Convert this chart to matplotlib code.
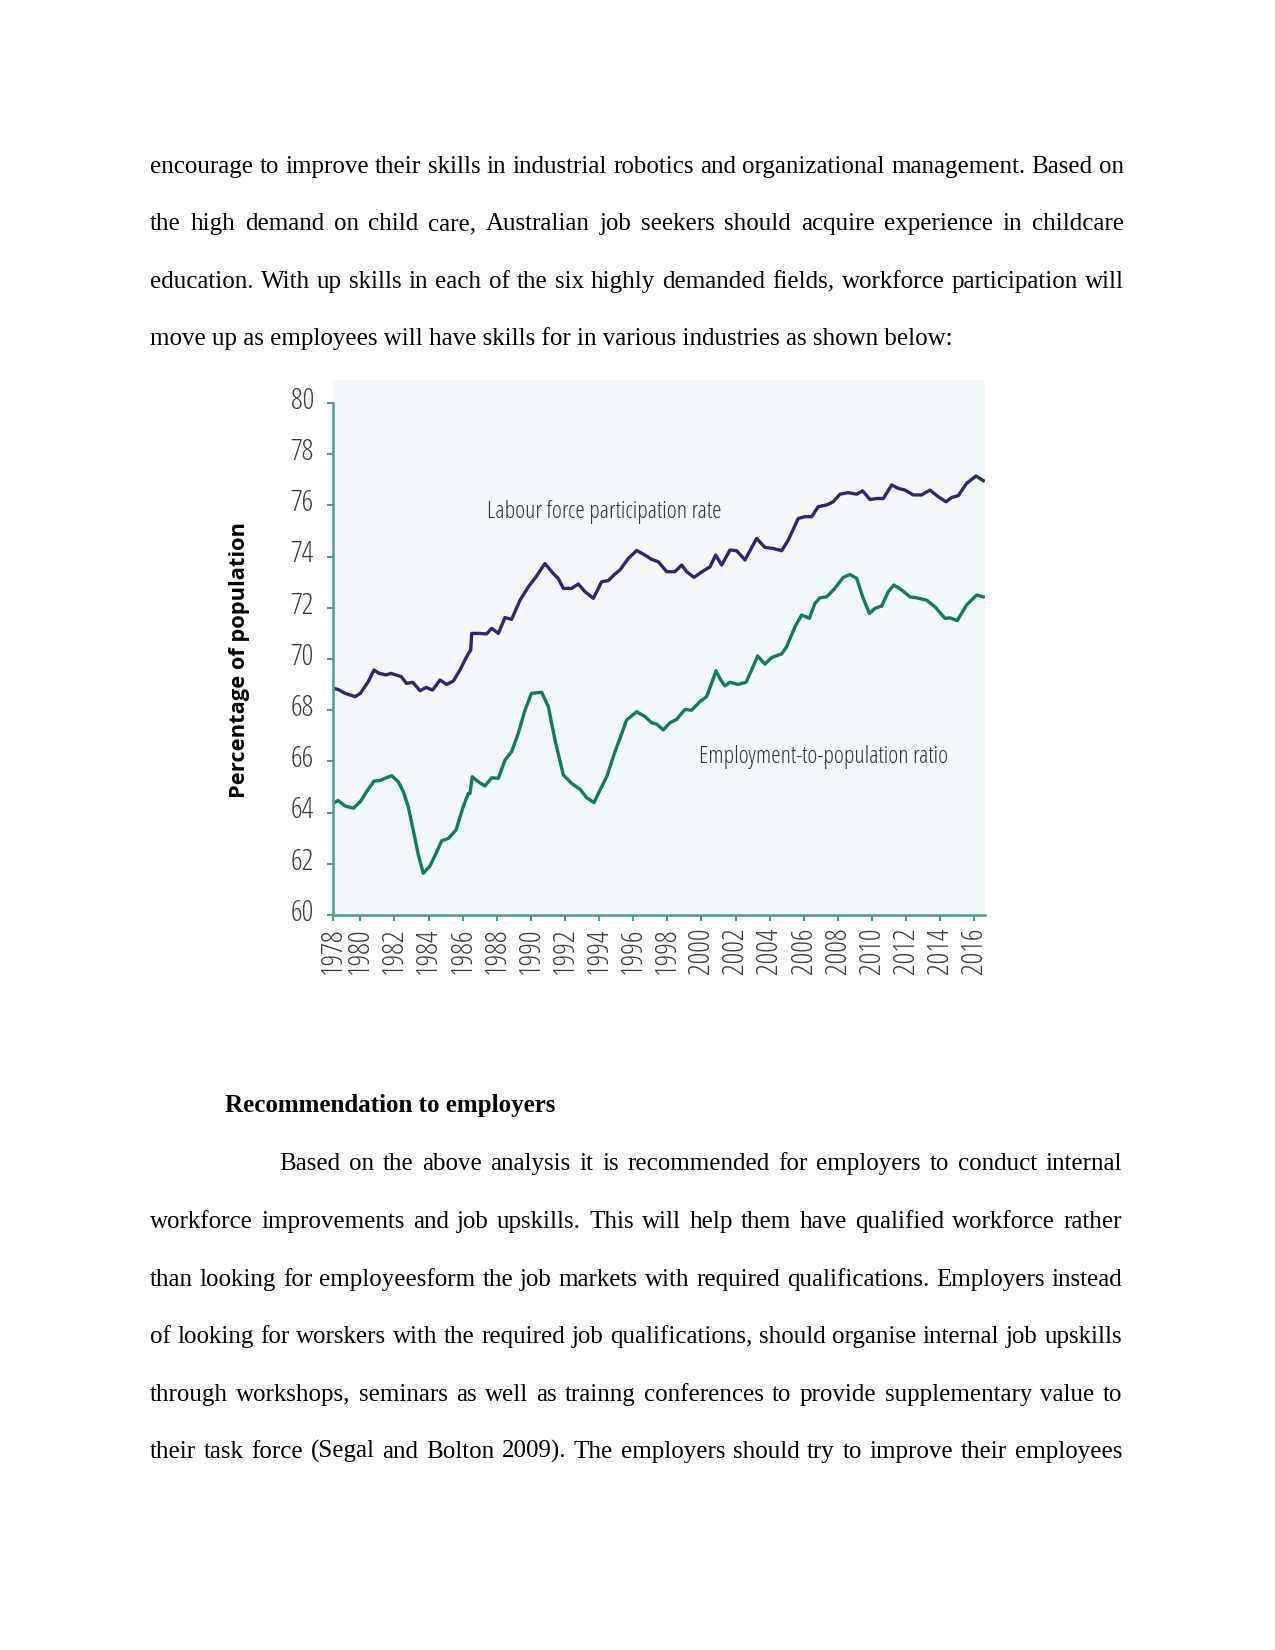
import matplotlib
matplotlib.use("Agg")
import matplotlib.pyplot as plt
from matplotlib.font_manager import FontProperties
from matplotlib.transforms import ScaledTranslation

# Labour force participation rate
lf_years = [1978.38, 1978.7, 1979.1, 1979.7, 1980.0, 1980.46, 1980.8, 1981.1, 1981.5, 1981.8,
            1982.4, 1982.7, 1983.07, 1983.5, 1983.85, 1984.24, 1984.67, 1985.06, 1985.45, 1985.84,
            1986.23, 1986.47, 1986.53, 1987.0, 1987.4, 1987.7, 1988.09, 1988.48, 1988.87, 1989.36,
            1989.85, 1990.3, 1990.82, 1991.31, 1991.6, 1991.9, 1992.39, 1992.78, 1993.17, 1993.66,
            1994.15, 1994.53, 1994.93, 1995.22, 1995.71, 1996.2, 1996.69, 1997.08, 1997.47, 1997.96,
            1998.44, 1998.84, 1999.13, 1999.56, 2000.1, 2000.5, 2000.83, 2001.18, 2001.67, 2002.06,
            2002.55, 2003.23, 2003.72, 2004.2, 2004.7, 2005.09, 2005.67, 2006.06, 2006.46, 2006.84,
            2007.34, 2007.72, 2008.12, 2008.6, 2009.1, 2009.45, 2009.88, 2010.27, 2010.66, 2011.15,
            2011.53, 2011.93, 2012.41, 2012.9, 2013.39, 2013.88, 2014.33, 2014.66, 2015.05, 2015.54,
            2016.09, 2016.52]
lf_values = [68.86, 68.81, 68.66, 68.53, 68.66, 69.11, 69.57, 69.44, 69.38, 69.44,
             69.31, 69.05, 69.09, 68.76, 68.89, 68.79, 69.18, 69.01, 69.14, 69.57,
             70.09, 70.35, 71.0, 71.0, 70.98, 71.2, 71.0, 71.62, 71.55, 72.3,
             72.82, 73.21, 73.73, 73.34, 73.15, 72.76, 72.76, 72.93, 72.63, 72.37,
             73.02, 73.06, 73.32, 73.48, 73.93, 74.24, 74.06, 73.89, 73.80, 73.41,
             73.41, 73.67, 73.41, 73.19, 73.44, 73.6, 74.06, 73.67, 74.26, 74.23,
             73.87, 74.71, 74.36, 74.32, 74.23, 74.65, 75.49, 75.56, 75.56, 75.95,
             76.02, 76.14, 76.44, 76.5, 76.44, 76.57, 76.23, 76.27, 76.27, 76.8,
             76.67, 76.6, 76.41, 76.41, 76.6, 76.34, 76.14, 76.31, 76.38, 76.86,
             77.15, 76.97]

# Employment-to-population ratio
ep_years = [1978.38, 1978.7, 1979.1, 1979.6, 1980.0, 1980.37, 1980.8, 1981.15, 1981.44, 1981.84,
            1982.22, 1982.52, 1982.81, 1983.1, 1983.4, 1983.69, 1984.08, 1984.44, 1984.77, 1985.16,
            1985.61, 1986.03, 1986.33, 1986.43, 1986.56, 1986.91, 1987.3, 1987.7, 1988.09, 1988.48,
            1988.87, 1989.26, 1989.65, 1990.04, 1990.63, 1991.02, 1991.41, 1991.9, 1992.39, 1992.88,
            1993.27, 1993.7, 1994.05, 1994.44, 1994.93, 1995.22, 1995.61, 1996.2, 1996.69, 1997.08,
            1997.37, 1997.76, 1998.15, 1998.54, 1999.03, 1999.42, 1999.9, 2000.3, 2000.59, 2000.85,
            2001.08, 2001.37, 2001.67, 2002.15, 2002.61, 2002.94, 2003.29, 2003.72, 2004.11, 2004.7,
            2004.99, 2005.48, 2005.87, 2006.32, 2006.65, 2006.94, 2007.34, 2007.82, 2008.31, 2008.7,
            2009.1, 2009.45, 2009.84, 2010.17, 2010.56, 2010.95, 2011.28, 2011.73, 2012.22, 2012.61,
            2013.2, 2013.69, 2014.27, 2014.56, 2014.99, 2015.54, 2016.13, 2016.52]
ep_values = [64.36, 64.47, 64.26, 64.17, 64.43, 64.82, 65.23, 65.25, 65.34, 65.44,
             65.21, 64.82, 64.23, 63.32, 62.34, 61.63, 61.91, 62.41, 62.9, 62.99,
             63.32, 64.23, 64.75, 64.75, 65.4, 65.21, 65.04, 65.36, 65.34, 66.05,
             66.38, 67.1, 68.0, 68.66, 68.7, 68.14, 66.84, 65.47, 65.14, 64.91,
             64.58, 64.39, 64.88, 65.4, 66.38, 66.9, 67.62, 67.94, 67.75, 67.51,
             67.46, 67.23, 67.51, 67.64, 68.03, 68.0, 68.33, 68.53, 69.05, 69.54,
             69.24, 68.95, 69.09, 69.01, 69.09, 69.57, 70.12, 69.8, 70.06, 70.2,
             70.48, 71.26, 71.72, 71.59, 72.17, 72.39, 72.43, 72.76, 73.19, 73.3,
             73.15, 72.43, 71.78, 71.98, 72.07, 72.63, 72.89, 72.7, 72.43, 72.39,
             72.3, 72.04, 71.59, 71.61, 71.5, 72.11, 72.5, 72.43]

y_ticks = [60, 62, 64, 66, 68, 70, 72, 74, 76, 78, 80]
x_tick_years = [1980, 1982, 1984, 1986, 1988, 1990, 1992, 1994, 1996, 1998, 2000,
                2002, 2004, 2006, 2008, 2010, 2012, 2014, 2016]
x_tick_labels = ["1978", "1980", "1982", "1984", "1986", "1988", "1990", "1992", "1994", "1996",
                 "1998", "2000", "2002", "2004", "2006", "2008", "2010", "2012", "2014", "2016"]

para1 = [
    "encourage to improve their skills in industrial robotics and organizational management. Based on",
    "the high demand on child care, Australian job seekers should acquire experience in childcare",
    "education.  With up skills in each of the six highly demanded fields, workforce participation will",
]
para1_last = "move up as employees will have skills for in various industries as shown below:"
heading = "Recommendation to employers"
para2 = [
    "Based on the above analysis it is recommended for employers to conduct internal",
    "workforce improvements and job upskills. This will help them have qualified workforce rather",
    "than looking for employeesform the job markets with required qualifications. Employers instead",
    "of looking for worskers with the required job qualifications, should organise internal job upskills",
    "through workshops, seminars as well as trainng conferences to provide supplementary value to",
    "their task force (Segal and Bolton 2009).  The employers should try to improve their employees",
]

W, H = 1275, 1650
cond = dict(family='Open Sans', stretch='condensed', weight='light')

fig = plt.figure(figsize=(8.5, 11), dpi=150)
renderer = fig.canvas.get_renderer()

serif = dict(family='Liberation Serif', fontsize=12, color='black', va='baseline')


def put(text, x, y, **kw):
    return fig.text(x / W, 1 - y / H, text, **kw)


def justified(text, x0, x1, y):
    words = text.split()
    objs = [put(w, x0, y, **serif) for w in words]
    widths = [o.get_window_extent(renderer).width for o in objs]
    gap = (x1 - x0 - sum(widths)) / (len(words) - 1)
    x = x0
    for o, w in zip(objs, widths):
        o.set_x(x / W)
        x += w + gap


# text above the chart
base1 = [173, 230, 288]
for line, yb in zip(para1, base1):
    justified(line, 150, 1124, yb)
put(para1_last, 150, 345, **serif)

# text below the chart
put(heading, 225, 1112, family='Liberation Serif', fontsize=12, weight='bold', va='baseline')
base2 = [1170, 1228, 1286, 1343, 1401, 1458]
for i, (line, yb) in enumerate(zip(para2, base2)):
    justified(line, 279 if i == 0 else 150, 1122, yb)

# chart
x0, x1 = 1978.38, 2016.62
axis_col = '#4a9d8f'
ax = fig.add_axes([332.7 / W, 1 - 915 / H, (985 - 332.7) / W, (915 - 380) / H])
ax.set_facecolor('#f3f8fb')
ax.plot(lf_years, lf_values, color='#2c2a6c', lw=1.6, solid_joinstyle='round')
ax.plot(ep_years, ep_values, color='#137a60', lw=1.6, solid_joinstyle='round')

ax.set_xlim(x0, x1)
ax.set_ylim(60, 80.9)
for s in ['top', 'right']:
    ax.spines[s].set_visible(False)
ax.spines['left'].set_bounds(60, 80)
for s in ['left', 'bottom']:
    ax.spines[s].set_color(axis_col)
    ax.spines[s].set_linewidth(1.2)

ax.set_yticks(y_ticks)
ax.set_yticklabels([str(v) for v in y_ticks])
ax.set_xticks([x0] + x_tick_years)
ax.set_xticklabels(x_tick_labels, rotation=90)
ax.tick_params(axis='both', color=axis_col, labelcolor='#3a3a3a', direction='out',
               length=3, width=1)
ax.tick_params(axis='y', pad=6)
ax.tick_params(axis='x', pad=3)
tick_fp = FontProperties(size=14, **cond)
for lab in ax.get_xticklabels() + ax.get_yticklabels():
    lab.set_fontproperties(tick_fp)
# y labels sit a little above their ticks in the original
lift = ScaledTranslation(0, 2.6 / 72, fig.dpi_scale_trans)
for lab in ax.get_yticklabels():
    lab.set_transform(lab.get_transform() + lift)

ax.text(1987.41, 75.75, "Labour force participation rate", fontsize=11.5, color='#333333',
        ha='left', va='center', **cond)
ax.text(1999.85, 66.18, "Employment-to-population ratio", fontsize=11.5, color='#333333',
        ha='left', va='center', **cond)

put("Percentage of population", 240, 660, family='Open Sans', weight='bold', fontsize=10.5,
    rotation=90, ha='center', va='center', color='black')

fig.savefig("out.png", dpi=150)
